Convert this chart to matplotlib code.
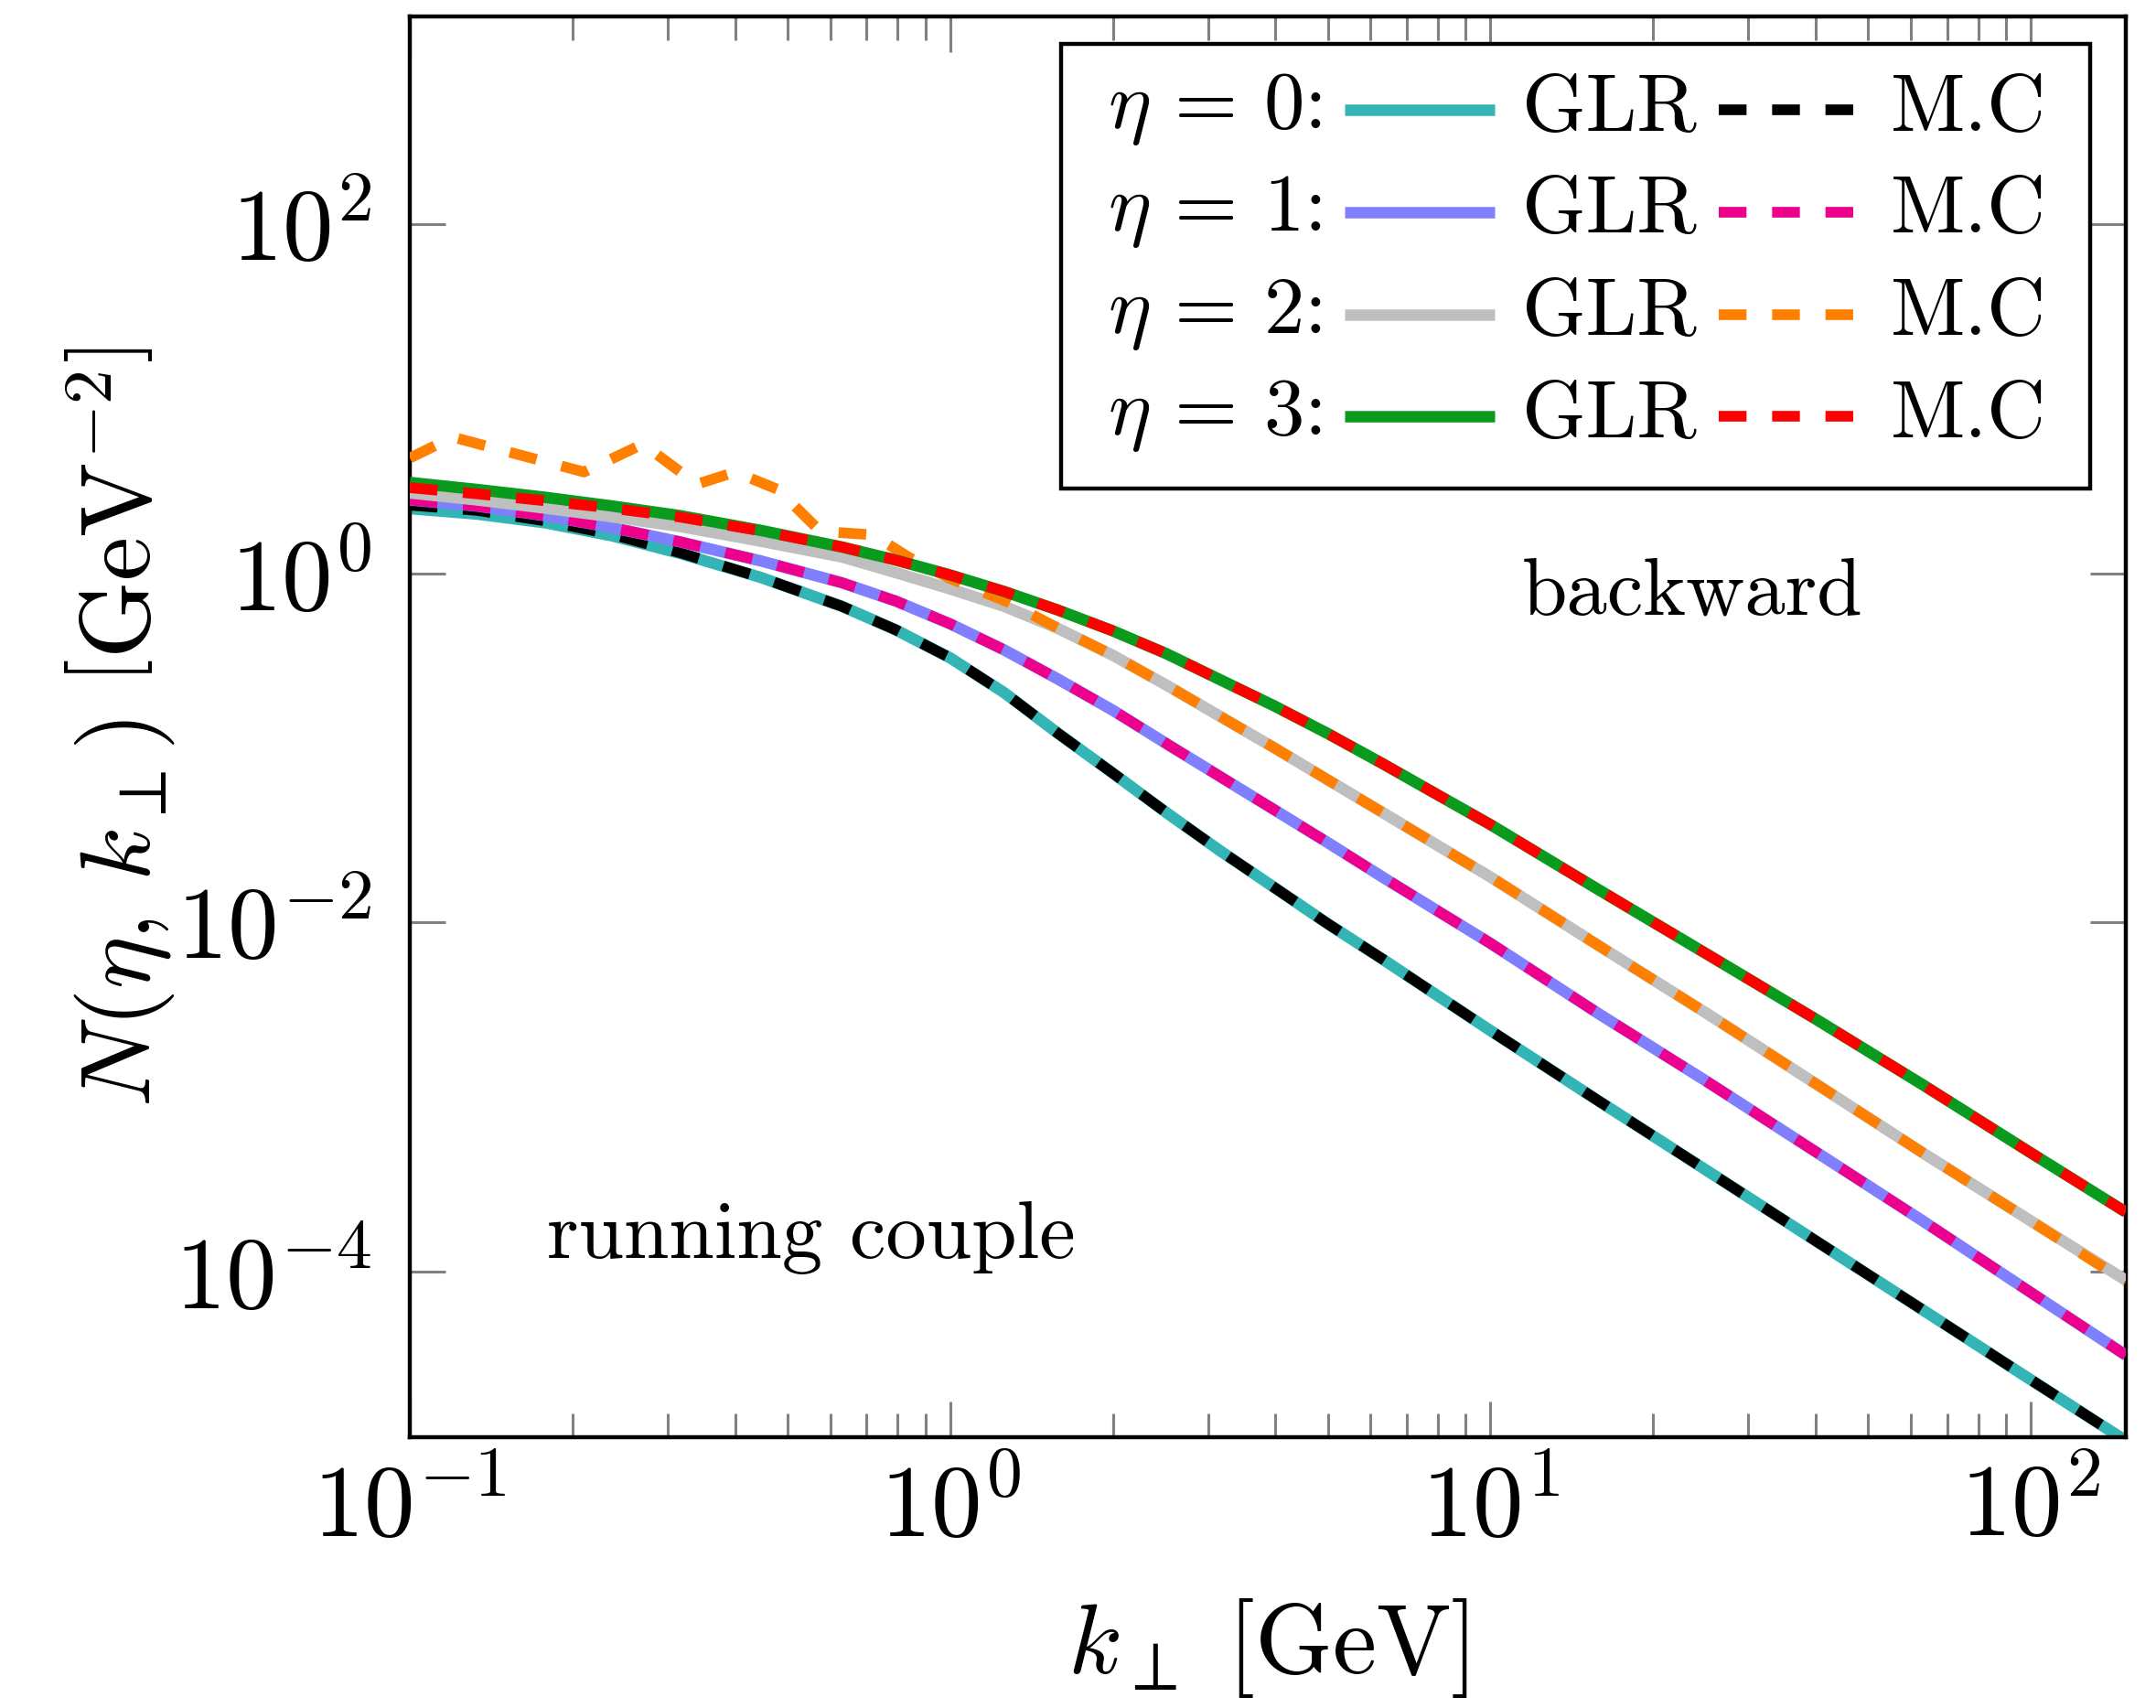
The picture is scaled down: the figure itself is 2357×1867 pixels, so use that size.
import numpy as np
import matplotlib
matplotlib.use('Agg')
import matplotlib.pyplot as plt
from matplotlib.ticker import FixedLocator, FuncFormatter, LogLocator, NullLocator
from matplotlib.lines import Line2D
from matplotlib.patches import Rectangle

plt.rcParams['font.family'] = 'serif'
plt.rcParams['font.serif'] = ['cmr10']
plt.rcParams['mathtext.fontset'] = 'cm'
plt.rcParams['axes.unicode_minus'] = False
plt.rcParams['axes.formatter.use_mathtext'] = True

# ---------------- data (values are log10 of N) ----------------
k_grid = [0.1, 0.133, 0.178, 0.237, 0.316, 0.447, 0.631, 0.794, 1.0, 1.26, 1.58, 2.0, 2.51,
          3.16, 3.98, 5.01, 6.31, 7.94, 10.0, 15.8, 25.1, 39.8, 63.1, 100.0, 150.0]

log10_glr_eta0 = [0.37, 0.339, 0.289, 0.214, 0.114, -0.025, -0.19, -0.325, -0.485, -0.685,
                  -0.915, -1.145, -1.37, -1.59, -1.80, -2.01, -2.21, -2.415, -2.62, -3.02,
                  -3.42, -3.82, -4.22, -4.62, -4.97]
log10_glr_eta1 = [0.42, 0.385, 0.33, 0.261, 0.18, 0.07, -0.055, -0.16, -0.29, -0.44,
                  -0.605, -0.785, -0.975, -1.165, -1.355, -1.545, -1.74, -1.93, -2.12, -2.52,
                  -2.91, -3.31, -3.71, -4.12, -4.48]
log10_glr_eta2 = [0.46, 0.42, 0.373, 0.323, 0.268, 0.183, 0.093, 0.003, -0.09, -0.19,
                  -0.315, -0.47, -0.64, -0.82, -1.00, -1.185, -1.37, -1.555, -1.74, -2.13,
                  -2.52, -2.92, -3.32, -3.71, -4.05]
log10_glr_eta3 = [0.52, 0.48, 0.435, 0.385, 0.33, 0.245, 0.15, 0.075, -0.01, -0.105,
                  -0.21, -0.33, -0.46, -0.61, -0.76, -0.92, -1.09, -1.265, -1.44, -1.81,
                  -2.18, -2.55, -2.93, -3.32, -3.66]

log10_mc_eta0 = [0.39, 0.36, 0.30, 0.222, 0.118, -0.025, -0.19, -0.325, -0.485, -0.685,
                 -0.915, -1.145, -1.37, -1.59, -1.80, -2.01, -2.21, -2.415, -2.62, -3.02,
                 -3.42, -3.82, -4.22, -4.62, -4.97]
log10_mc_eta1 = [0.42, 0.385, 0.33, 0.261, 0.18, 0.07, -0.055, -0.16, -0.29, -0.44,
                 -0.605, -0.785, -0.975, -1.165, -1.355, -1.545, -1.74, -1.93, -2.12, -2.52,
                 -2.91, -3.31, -3.71, -4.12, -4.48]
log10_mc_eta3 = [0.49, 0.455, 0.415, 0.372, 0.322, 0.242, 0.15, 0.075, -0.01, -0.105,
                 -0.21, -0.33, -0.46, -0.61, -0.76, -0.92, -1.09, -1.265, -1.44, -1.81,
                 -2.18, -2.55, -2.93, -3.32, -3.66]

k_mc_eta2 = [0.1, 0.12, 0.21, 0.27, 0.34, 0.40, 0.48, 0.575, 0.72, 0.84, 1.0, 1.29, 1.55,
             2.0, 2.51, 3.16, 3.98, 5.01, 6.31, 7.94, 10.0, 15.8, 25.1, 39.8, 63.1, 100.0, 150.0]
log10_mc_eta2 = [0.66, 0.78, 0.58, 0.74, 0.51, 0.58, 0.48, 0.24, 0.22, 0.09, -0.03, -0.17,
                 -0.30, -0.47, -0.64, -0.82, -1.00, -1.185, -1.37, -1.555, -1.74, -2.13,
                 -2.52, -2.92, -3.32, -3.71, -4.06]

eta_labels = [r'$\eta\,=\,0$:', r'$\eta\,=\,1$:', r'$\eta\,=\,2$:', r'$\eta\,=\,3$:']
glr_colors = ['#33b5b5', '#8080ff', '#bfbfbf', '#0a9a1e']
mc_colors = ['#000000', '#ec008c', '#ff8000', '#ff0000']
y_ticks = [1e-4, 1e-2, 1e0, 1e2]

# ---------------- figure ----------------
fig = plt.figure(figsize=(11.785, 9.335), dpi=200)
ax = fig.add_axes([0.1901, 0.1585, 0.7959, 0.8319])
ax.set_xscale('log')
ax.set_yscale('log')

LW_SOLID = 4.5
LW_DASH = 4.2
DASH = (2.6, 2.4)

glr_sets = [log10_glr_eta0, log10_glr_eta1, log10_glr_eta2, log10_glr_eta3]
mc_sets = [(k_grid, log10_mc_eta0), (k_grid, log10_mc_eta1),
           (k_mc_eta2, log10_mc_eta2), (k_grid, log10_mc_eta3)]

for i in range(4):
    ax.plot(k_grid, 10 ** np.array(glr_sets[i]), color=glr_colors[i], lw=LW_SOLID,
            solid_capstyle='butt', solid_joinstyle='round', zorder=2 + 2 * i)
    kx, ly = mc_sets[i]
    ax.plot(kx, 10 ** np.array(ly), color=mc_colors[i], lw=LW_DASH,
            dashes=DASH, dash_capstyle='butt', zorder=3 + 2 * i)

ax.set_xlim(0.1, 150)
ax.set_ylim(10 ** -4.95, 10 ** 3.19)

fmt = FuncFormatter(lambda v, pos: r'$\mathrm{10^{%d}}$' % int(round(np.log10(v))))
ax.xaxis.set_major_locator(LogLocator(base=10))
ax.xaxis.set_minor_locator(LogLocator(base=10, subs=np.arange(2, 10)))
ax.xaxis.set_major_formatter(fmt)
ax.xaxis.set_minor_formatter(plt.NullFormatter())
ax.yaxis.set_major_locator(FixedLocator(y_ticks))
ax.yaxis.set_minor_locator(NullLocator())
ax.yaxis.set_major_formatter(fmt)

ax.tick_params(which='both', direction='in', colors='#808080', labelcolor='black',
               top=True, right=True, width=1.1, labelsize=40)
ax.tick_params(which='major', length=14)
ax.tick_params(which='minor', length=9.5)
ax.tick_params(axis='x', which='major', pad=10)
ax.tick_params(axis='y', which='major', pad=15)
for s in ax.spines.values():
    s.set_linewidth(1.6)
    s.set_color('black')

ax.set_xlabel(r'$k_\perp\ [\mathrm{GeV}]$', fontsize=39)
ax.set_ylabel(r'$N(\eta,\, k_\perp)\ \left[\mathrm{GeV}^{-2}\right]$', fontsize=39)
ax.xaxis.set_label_coords(0.5, -0.112)
ax.yaxis.set_label_coords(-0.136, 0.5)

# annotations
ax.text(0.080, 0.1262, 'running couple', transform=ax.transAxes, fontsize=32,
        ha='left', va='baseline')
ax.text(0.6482, 0.5789, 'backward', transform=ax.transAxes, fontsize=32,
        ha='left', va='baseline')

# ---------------- custom legend ----------------
box = Rectangle((0.3795, 0.6677), 0.9792 - 0.3795, 0.9807 - 0.6677, transform=ax.transAxes,
                facecolor='white', edgecolor='black', lw=1.6, zorder=20)
ax.add_patch(box)
row_y = [0.9343, 0.8622, 0.7901, 0.7186]
for i in range(4):
    y = row_y[i]
    ax.text(0.4067, y, eta_labels[i], transform=ax.transAxes, fontsize=32,
            ha='left', va='center', zorder=21)
    ax.add_line(Line2D([0.5448, 0.6322], [y, y], transform=ax.transAxes,
                       color=glr_colors[i], lw=LW_SOLID, solid_capstyle='butt', zorder=21))
    ax.text(0.6482, y, 'GLR', transform=ax.transAxes, fontsize=32,
            ha='left', va='center', zorder=21)
    ax.add_line(Line2D([0.7628, 0.8470], [y, y], transform=ax.transAxes,
                       color=mc_colors[i], lw=LW_DASH, dashes=DASH, dash_capstyle='butt',
                       zorder=21))
    ax.text(0.8630, y, 'M.C', transform=ax.transAxes, fontsize=32,
            ha='left', va='center', zorder=21)

fig.savefig('out.png', dpi=200)
